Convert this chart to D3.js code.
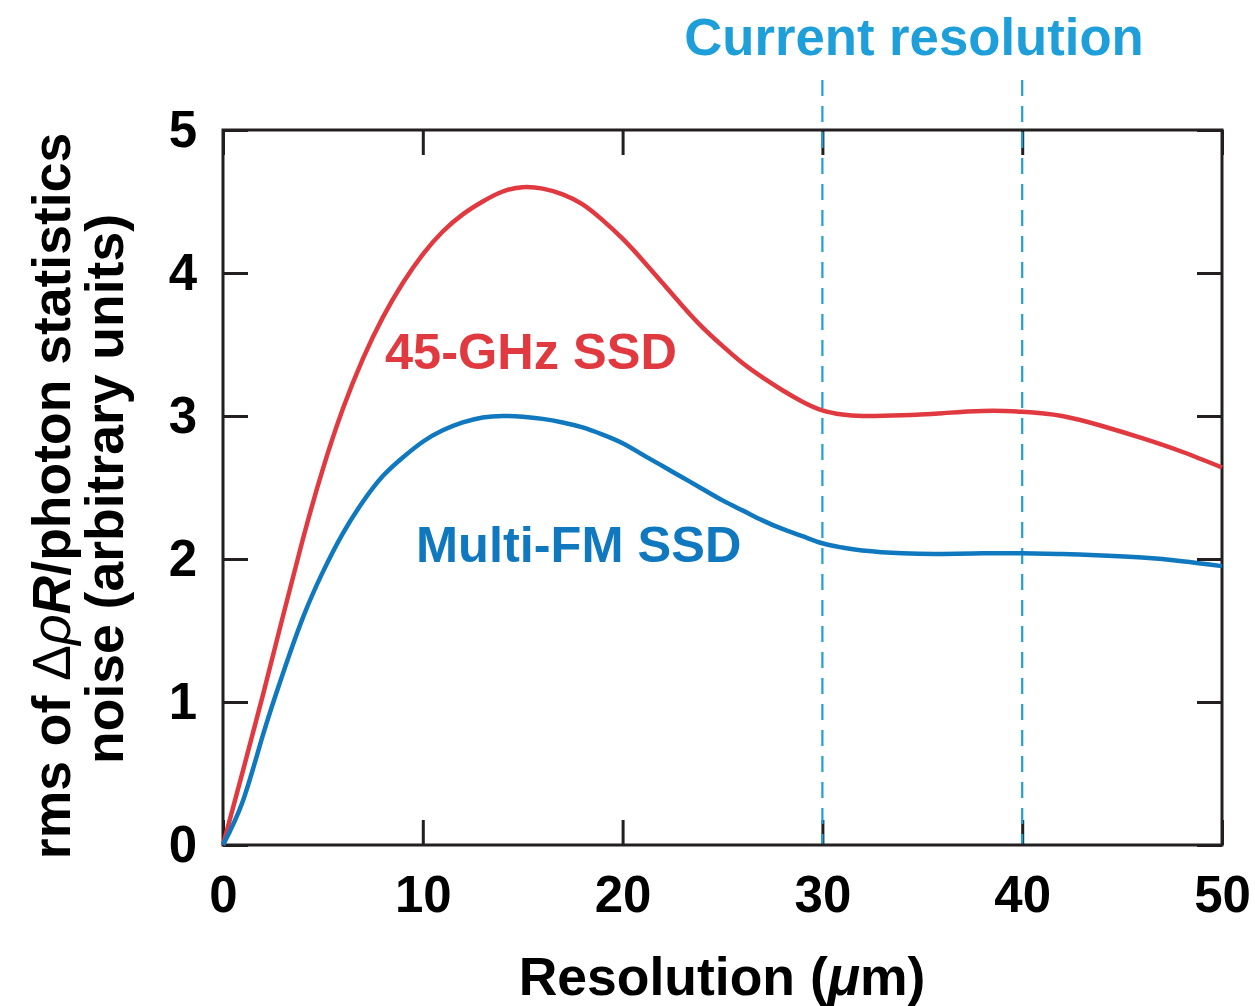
<!DOCTYPE html>
<html>
<head>
<meta charset="utf-8">
<script src="https://cdn.jsdelivr.net/npm/d3@7"></script>
<style>
	body { margin: 0; background: #fff; }
	text { font-family: 'Liberation Sans', Arial, Helvetica, sans-serif; font-weight: bold; }
</style>
</head>
<body>
<div id="chart"></div>
<script>
// resolution (um) and noise values
const resolution = [0, 1, 2, 3, 4, 5, 6, 7, 8, 9, 10, 11, 12, 13, 14, 15, 16, 17, 18, 19, 20,
	21, 22, 23, 24, 25, 26, 27, 28, 29, 30, 31, 32, 34, 36, 38, 40, 42, 44, 46, 48, 50];
const ghz45 = [0, 0.52, 1.05, 1.6, 2.14, 2.63, 3.05, 3.4, 3.69, 3.93, 4.13, 4.29, 4.41, 4.50, 4.57, 4.60, 4.59, 4.55, 4.48, 4.37, 4.24,
	4.09, 3.93, 3.77, 3.62, 3.49, 3.37, 3.27, 3.18, 3.10, 3.04, 3.01, 3.00, 3.005, 3.02, 3.035, 3.03, 3.00, 2.93, 2.845, 2.75, 2.64];
const multiFM = [0, 0.31, 0.77, 1.2, 1.59, 1.91, 2.18, 2.40, 2.58, 2.71, 2.82, 2.90, 2.955, 2.99, 3.0, 2.995, 2.98, 2.955, 2.92, 2.87, 2.81,
	2.73, 2.65, 2.57, 2.49, 2.41, 2.34, 2.27, 2.21, 2.16, 2.11, 2.08, 2.06, 2.04, 2.035, 2.04, 2.04, 2.035, 2.025, 2.01, 1.985, 1.95];
const xTicks = [0, 10, 20, 30, 40, 50];
const yTicks = [0, 1, 2, 3, 4, 5];
const currentRes = [30, 40];

const W = 1255, H = 1006;
const margin = { top: 130, right: 33, bottom: 161, left: 223 };
const width = W - margin.left - margin.right;
const height = H - margin.top - margin.bottom;

const svg = d3.select('#chart').append('svg')
	.attr('width', W)
	.attr('height', H);

const g = svg.append('g')
	.attr('transform', `translate(${margin.left},${margin.top})`);

const x = d3.scaleLinear().domain([0, 50]).range([0, width]);
const y = d3.scaleLinear().domain([0, 5]).range([height, 0]);

const axisColor = '#231f20';
const tickLen = 25;

// ticks, all pointing inward
g.append('g')
	.attr('transform', `translate(0,${height})`)
	.call(d3.axisBottom(x).tickValues(xTicks).tickSize(-tickLen).tickPadding(31).tickFormat(d3.format('d')));
g.append('g')
	.call(d3.axisLeft(y).tickValues(yTicks).tickSize(-tickLen).tickPadding(26).tickFormat(d3.format('d')));
g.append('g')
	.call(d3.axisTop(x).tickValues(xTicks).tickSize(-tickLen).tickFormat(''));
g.append('g')
	.attr('transform', `translate(${width},0)`)
	.call(d3.axisRight(y).tickValues(yTicks).tickSize(-tickLen).tickFormat(''));

g.selectAll('.domain').remove();
g.selectAll('.tick line')
	.attr('stroke', axisColor)
	.attr('stroke-width', 3);
g.selectAll('.tick text')
	.attr('fill', '#000')
	.style('font-size', '51px')
	.style('font-family', "'Liberation Sans', Arial, sans-serif")
	.style('font-weight', 'bold');

// current resolution markers
g.selectAll('.cur')
	.data(currentRes)
	.enter()
	.append('line')
	.attr('class', 'cur')
	.attr('x1', d => x(d))
	.attr('x2', d => x(d))
	.attr('y1', -50)
	.attr('y2', height)
	.attr('stroke', '#1e9fd9')
	.attr('stroke-width', 2.2)
	.attr('stroke-dasharray', '16,10');

// frame
g.append('rect')
	.attr('x', 0)
	.attr('y', 0)
	.attr('width', width)
	.attr('height', height)
	.attr('fill', 'none')
	.attr('stroke', axisColor)
	.attr('stroke-width', 3);

// curves
const line = d3.line()
	.x(d => x(d[0]))
	.y(d => y(d[1]))
	.curve(d3.curveNatural);

const series = [
	{ values: ghz45, color: '#e03a40' },
	{ values: multiFM, color: '#0f78be' }
];

g.selectAll('.curve')
	.data(series)
	.enter()
	.append('path')
	.attr('class', 'curve')
	.attr('d', d => line(resolution.map((r, i) => [r, d.values[i]])))
	.attr('fill', 'none')
	.attr('stroke', d => d.color)
	.attr('stroke-width', 4.5);

// labels
svg.append('text')
	.attr('x', 914)
	.attr('y', 55)
	.attr('text-anchor', 'middle')
	.style('font-size', '52.7px')
	.attr('fill', '#1e9fd9')
	.text('Current resolution');

svg.append('text')
	.attr('x', 385)
	.attr('y', 369)
	.style('font-size', '50.5px')
	.attr('fill', '#e03a40')
	.text('45-GHz SSD');

svg.append('text')
	.attr('x', 416)
	.attr('y', 562)
	.style('font-size', '50.5px')
	.attr('fill', '#0f78be')
	.text('Multi-FM SSD');

// x title
const xt = svg.append('text')
	.attr('x', 722)
	.attr('y', 995)
	.attr('text-anchor', 'middle')
	.style('font-size', '53.5px')
	.attr('fill', '#000');
xt.append('tspan').text('Resolution (');
xt.append('tspan').style('font-style', 'italic').text('\u03bc');
xt.append('tspan').text('m)');

// y title, two lines
const yt = svg.append('text')
	.attr('transform', 'translate(70,496) rotate(-90)')
	.attr('text-anchor', 'middle')
	.style('font-size', '53.5px')
	.attr('fill', '#000');
yt.append('tspan').text('rms of ');
yt.append('tspan').style('font-weight', 'normal').text('\u0394');
yt.append('tspan').style('font-weight', 'normal').style('font-style', 'italic').text('\u03c1');
yt.append('tspan').style('font-style', 'italic').text('R');
yt.append('tspan').text('/photon statistics');

svg.append('text')
	.attr('transform', 'translate(123,489) rotate(-90)')
	.attr('text-anchor', 'middle')
	.style('font-size', '53.5px')
	.attr('fill', '#000')
	.text('noise (arbitrary units)');
</script>
</body>
</html>
